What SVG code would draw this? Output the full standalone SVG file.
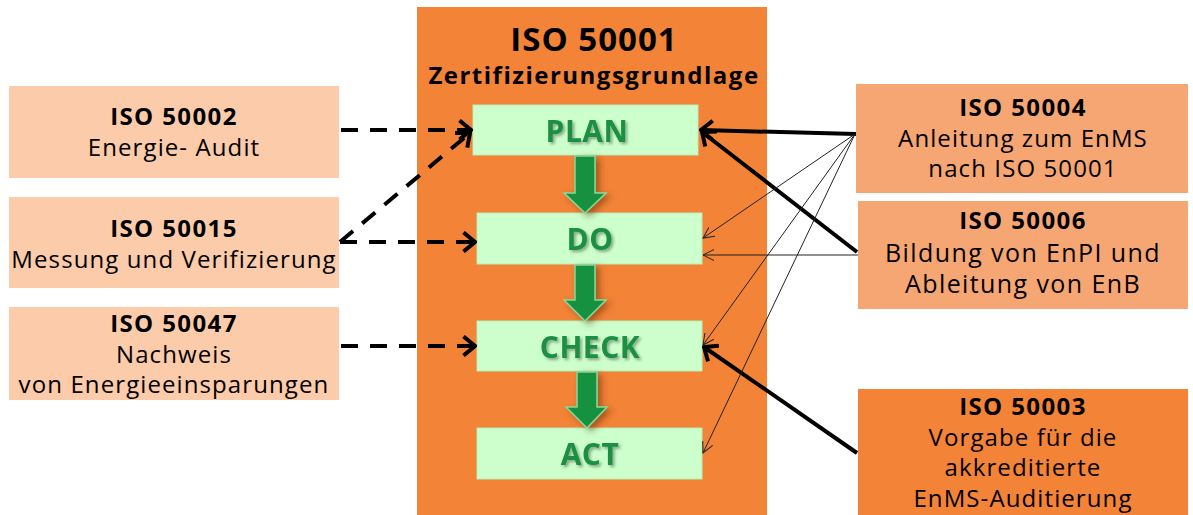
<svg xmlns="http://www.w3.org/2000/svg" width="1193" height="515" viewBox="0 0 1193 515">
<style>
text{font-family:"Open Sans","Liberation Sans",sans-serif;fill:#000;text-anchor:middle;font-size:24px;letter-spacing:1.1px}
.b{font-weight:bold;letter-spacing:1.4px}
.t1{font-weight:bold;font-size:33px;letter-spacing:1px}
.t2{font-weight:bold;font-size:24px;letter-spacing:1.5px}
.big{font-size:25px;letter-spacing:1.4px}
.box1{fill:#fbcbaa}
.box2{fill:#f6a672}
.orange{fill:#f38337}
.pdca{fill:#ccffcc;stroke:#b8eeb8;stroke-width:1}
.pt{font-weight:bold;font-size:30px;fill:#1b8f40;letter-spacing:0.5px}
.dash{stroke:#000;stroke-width:4;fill:none;stroke-dasharray:17 12}
.thick{stroke:#000;stroke-width:4;fill:none}
.thin{stroke:#222;stroke-width:1;fill:none}
.garrow{fill:#17913f;stroke:#86d99a;stroke-width:1.5}
</style>
<defs>
<marker id="mThick" viewBox="0 0 15 22" refX="13" refY="11" markerWidth="15" markerHeight="22" markerUnits="userSpaceOnUse" orient="auto">
<path d="M1.5,1.5 L13,11 L1.5,20.5" fill="none" stroke="#000" stroke-width="4" stroke-linejoin="miter"/>
</marker>
<marker id="mThin" viewBox="0 0 12 12" refX="11" refY="6" markerWidth="12" markerHeight="12" markerUnits="userSpaceOnUse" orient="auto">
<path d="M0,0.5 L11,6 L0,11.5" fill="none" stroke="#222" stroke-width="1"/>
</marker>
<filter id="sh" x="-30%" y="-30%" width="160%" height="160%">
<feDropShadow dx="2" dy="2" stdDeviation="1.5" flood-color="#000" flood-opacity="0.35"/>
</filter>
<filter id="sh2" x="-50%" y="-30%" width="200%" height="160%">
<feDropShadow dx="4" dy="3" stdDeviation="3" flood-color="#5a2a00" flood-opacity="0.5"/>
</filter>
</defs>

<g id="iso50001">
<rect class="orange" x="417" y="7" width="350" height="508"/>
<text class="t1" x="594" y="51">ISO 50001</text>
<text class="t2" x="594" y="84">Zertifizierungsgrundlage</text>
</g>

<g id="plan">
<rect class="pdca" x="473" y="105" width="225" height="50"/>
<text class="pt" x="587" y="142" filter="url(#sh)">PLAN</text>
</g>
<g id="do">
<rect class="pdca" x="477" y="213" width="225" height="51"/>
<text class="pt" x="590" y="250" filter="url(#sh)">DO</text>
</g>
<g id="check">
<rect class="pdca" x="477" y="321" width="225" height="50"/>
<text class="pt" x="590" y="358" filter="url(#sh)">CHECK</text>
</g>
<g id="act">
<rect class="pdca" x="477" y="428" width="225" height="51"/>
<text class="pt" x="590" y="465" filter="url(#sh)">ACT</text>
</g>

<g id="pdca-arrows" filter="url(#sh2)">
<path class="garrow" d="M575,156 L595,156 L595,193 L606,193 L585,213 L564,193 L575,193 Z"/>
<path class="garrow" d="M575,265 L595,265 L595,300 L606,300 L585,321 L564,300 L575,300 Z"/>
<path class="garrow" d="M577,372 L597,372 L597,407 L607,407 L587,428 L566,407 L577,407 Z"/>
</g>

<g id="iso50002">
<rect class="box1" x="9" y="86" width="330" height="92"/>
<text class="b" x="174" y="125">ISO 50002</text>
<text x="174" y="156">Energie- Audit</text>
</g>
<g id="iso50015">
<rect class="box1" x="9" y="197" width="330" height="91"/>
<text class="b" x="174" y="237">ISO 50015</text>
<text x="174" y="268">Messung und Verifizierung</text>
</g>
<g id="iso50047">
<rect class="box1" x="9" y="307" width="330" height="93"/>
<text class="b" x="174" y="332">ISO 50047</text>
<text x="174" y="363">Nachweis</text>
<text x="174" y="393">von Energieeinsparungen</text>
</g>

<g id="iso50004">
<rect class="box2" x="856" y="84" width="332" height="109"/>
<text class="b" x="1023" y="116">ISO 50004</text>
<text x="1023" y="147">Anleitung zum EnMS</text>
<text x="1023" y="177">nach ISO 50001</text>
</g>
<g id="iso50006">
<rect class="box2" x="858" y="201" width="330" height="108"/>
<text class="b" x="1023" y="229">ISO 50006</text>
<text class="big" x="1023" y="262">Bildung von EnPI und</text>
<text class="big" x="1023" y="293">Ableitung von EnB</text>
</g>
<g id="iso50003">
<rect class="orange" x="858" y="389" width="330" height="126"/>
<text class="b" x="1023" y="415">ISO 50003</text>
<text x="1023" y="446">Vorgabe für die</text>
<text x="1023" y="476">akkreditierte</text>
<text x="1023" y="507">EnMS-Auditierung</text>
</g>

<g id="connectors">
<line class="dash" x1="341" y1="130" x2="471" y2="130" marker-end="url(#mThick)"/>
<line class="dash" x1="340" y1="242" x2="470" y2="133" marker-end="url(#mThick)"/>
<line class="dash" x1="340" y1="242" x2="475" y2="242" marker-end="url(#mThick)"/>
<line class="dash" x1="341" y1="346" x2="475" y2="346" marker-end="url(#mThick)"/>

<line class="thick" x1="856" y1="134" x2="701" y2="130" marker-end="url(#mThick)"/>
<line class="thick" x1="857" y1="252" x2="702" y2="132" marker-end="url(#mThick)"/>
<line class="thick" x1="857" y1="453" x2="704" y2="347" marker-end="url(#mThick)"/>

<line class="thin" x1="855" y1="134" x2="703" y2="238" marker-end="url(#mThin)"/>
<line class="thin" x1="858" y1="255" x2="703" y2="255" marker-end="url(#mThin)"/>
<line class="thin" x1="855" y1="134" x2="703" y2="345" marker-end="url(#mThin)"/>
<line class="thin" x1="855" y1="134" x2="703" y2="453" marker-end="url(#mThin)"/>
</g>
</svg>
